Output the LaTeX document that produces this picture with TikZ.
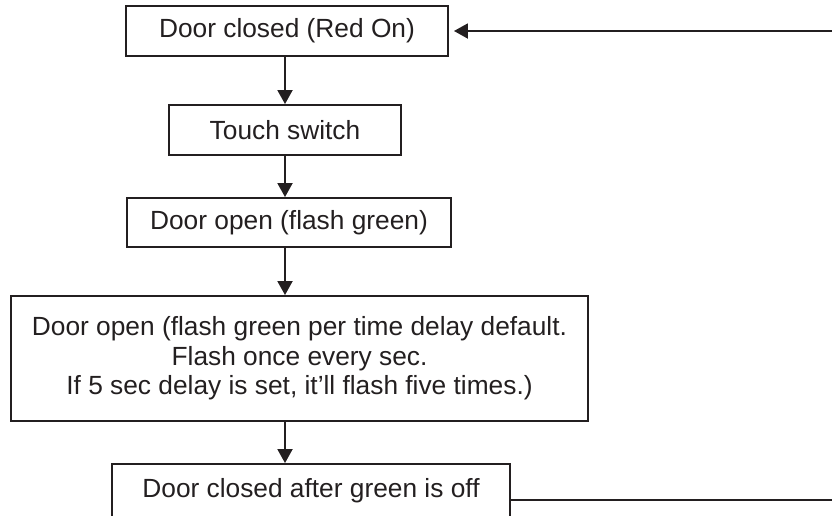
\documentclass[tikz,border=0pt]{standalone}
\usepackage{fontspec}
\setmainfont{Liberation Sans}
\usetikzlibrary{arrows.meta}
\definecolor{ink}{RGB}{35,31,32}

\begin{document}
\begin{tikzpicture}
  [x=1pt,y=-1pt,line width=1.9pt,color=ink,
   every node/.style={draw,rectangle,inner sep=0pt,align=center,
     font=\fontsize{26.3}{29.5}\selectfont},
   flow/.style={-{Triangle[width=15pt,length=14pt]}}]
  \useasboundingbox (0,0) rectangle (832,515);
  \coordinate (axis) at (285,0);
  \coordinate (back) at (845,500);
  \node[minimum width=322pt,minimum height=50pt] (n1) at (287,31) {Door closed (Red On)};
  \node[minimum width=232pt,minimum height=50pt] (n2) at (285,130) {Touch switch};
  \node[minimum width=324pt,minimum height=49pt] (n3) at (289,222.5) {Door open (flash green)};
  \node[minimum width=577pt,minimum height=125pt] (n4) at (299.5,358.5)
    {Door open (flash green per time delay default.\\Flash once every sec.\\If 5 sec delay is set, it'll flash five times.)};
  \node[minimum width=398pt,minimum height=60pt,text depth=12pt] (n5) at (311,494)
    {Door closed after green is off};
  \foreach \from/\to in {n1/n2,n2/n3,n3/n4,n4/n5}
    \draw[flow] (axis |- \from.south) -- (axis |- \to.north);
  \draw[flow,shorten >=5pt] (n5.east |- back) -- (back) -- (back |- n1.east) -- (n1.east);

\end{tikzpicture}
\end{document}
